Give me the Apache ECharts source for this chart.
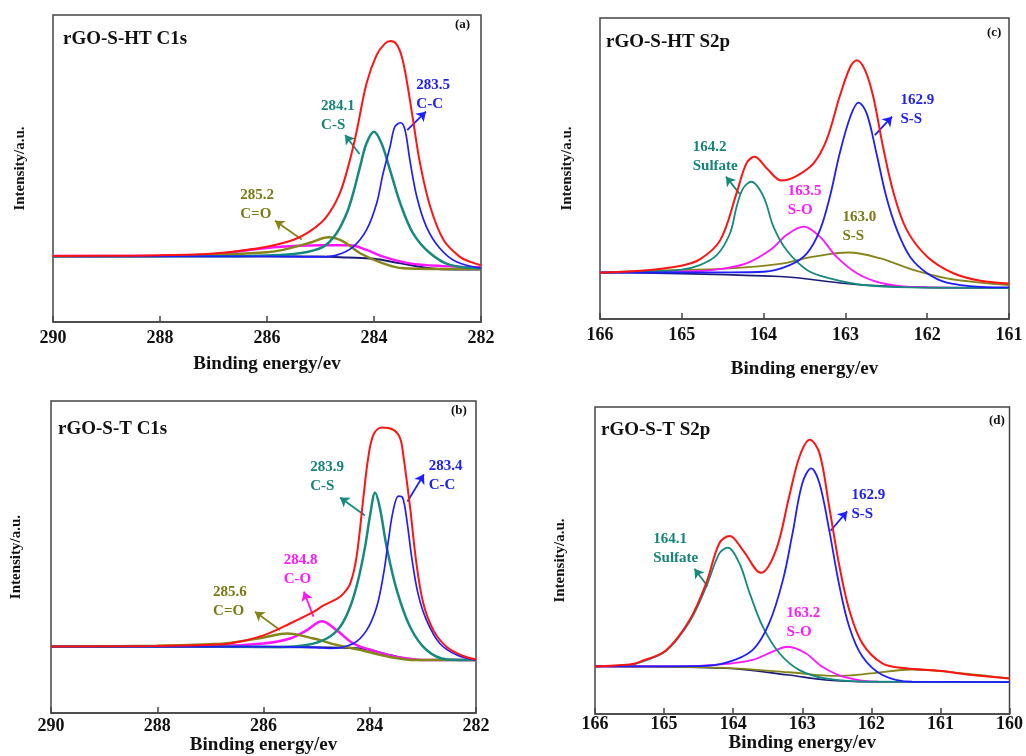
<!DOCTYPE html>
<html>
<head>
<meta charset="utf-8">
<title>XPS C1s / S2p</title>
<script src="https://cdn.jsdelivr.net/npm/echarts@6/dist/echarts.min.js"></script>
<style>
    html, body {margin: 0; padding: 0; background: #fff;}
    #main {width: 1026px; height: 756px;}
</style>
</head>
<body>
<div id="main"></div>
<script>
(function () {

    "use strict";

    /** (a) rGO-S-HT C1s  [binding energy, intensity] */
    var aEnvelope = [[290, 21.5], [288.5, 21.6], [287.5, 21.9], [287, 22.3], [286.5, 23.2], [286, 24.5], [285.5, 26.8], [285.2, 29.5], [284.9, 34.0], [284.64, 41.9], [284.45, 52.8], [284.32, 62.5], [284.14, 77.7], [283.95, 87.0], [283.8, 90.6], [283.69, 91.5], [283.58, 90.5], [283.48, 86.4], [283.39, 78.8], [283.27, 65.8], [283.14, 51.7], [282.95, 37.6], [282.7, 26.7], [282.4, 21.3], [282.2, 19.6], [282, 18.5]];
    var aCS = [[290, 21.4], [287, 21.4], [286, 21.7], [285.4, 22.4], [284.95, 24.5], [284.7, 28.9], [284.51, 35.4], [284.39, 41.9], [284.26, 50.6], [284.14, 58.2], [284.0, 62.0], [283.86, 58.2], [283.7, 49.5], [283.51, 38.7], [283.27, 28.9], [282.95, 22.4], [282.58, 18.6], [282, 17.5]];
    var aCC = [[290, 21.4], [286, 21.4], [285, 21.2], [284.7, 21.8], [284.39, 24.5], [284.14, 30.0], [283.95, 38.7], [283.83, 48.4], [283.7, 57.1], [283.61, 63.6], [283.5, 64.9], [283.42, 62.5], [283.33, 52.8], [283.2, 40.8], [283.02, 31.0], [282.77, 24.0], [282.46, 19.6], [282, 17.5]];
    var aCdO = [[290, 21.4], [288, 21.5], [287, 21.8], [286, 22.7], [285.7, 23.5], [285.2, 25.8], [284.85, 27.6], [284.57, 26.2], [284.26, 22.4], [283.83, 19.1], [283.45, 17.5], [282.9, 17.3], [282, 17.3]];
    var aCO = [[290, 21.5], [288, 21.6], [287, 22.1], [286, 24.1], [285.4, 24.8], [284.95, 25.0], [284.45, 25.0], [284.14, 23.5], [283.83, 21.3], [283.33, 19.1], [282.7, 18.2], [282, 17.8]];
    var aBase = [[290, 21.5], [285, 21.3], [284.5, 21.0], [284, 20.6], [283.5, 19.1], [283, 17.6], [282.5, 17.1], [282, 17.1]];

    /** (b) rGO-S-T C1s */
    var bEnvelope = [[290, 21.3], [288, 21.5], [287, 21.9], [286.6, 22.4], [286, 24.9], [285.5, 28.7], [285.06, 32.4], [284.87, 34.5], [284.62, 36.6], [284.5, 38.2], [284.37, 41.4], [284.25, 49.9], [284.12, 69.0], [284.03, 81.7], [283.93, 89.2], [283.78, 91.5], [283.56, 90.8], [283.43, 88.1], [283.37, 82.8], [283.24, 65.8], [283.12, 47.8], [282.99, 35.0], [282.8, 26.5], [282.55, 21.2], [282.24, 18.3], [282, 17.2]];
    var bCS = [[290, 21.3], [287, 21.3], [285.69, 21.2], [285.19, 21.8], [284.81, 23.9], [284.56, 27.6], [284.37, 34.0], [284.22, 42.5], [284.09, 53.1], [283.99, 63.7], [283.9, 70.6], [283.81, 65.8], [283.68, 53.1], [283.49, 39.3], [283.24, 27.6], [282.93, 20.2], [282.55, 17.2], [282, 17.0]];
    var bCC = [[290, 21.3], [286, 21.3], [285, 21.0], [284.75, 20.7], [284.31, 22.3], [284.06, 26.5], [283.87, 34.0], [283.74, 44.6], [283.65, 55.2], [283.56, 64.8], [283.46, 69.5], [283.38, 69.0], [283.3, 61.6], [283.21, 49.9], [283.09, 38.2], [282.93, 29.7], [282.68, 22.3], [282.36, 18.6], [282, 17.0]];
    var bCO = [[290, 21.3], [287, 21.4], [286, 22.3], [285.5, 23.9], [285.19, 26.5], [284.9, 29.4], [284.62, 26.5], [284.31, 22.3], [283.93, 20.0], [283.49, 18.0], [282.9, 17.0], [282, 17.0]];
    var bCdO = [[290, 21.3], [288, 21.6], [287, 22.1], [286.63, 22.5], [286, 24.2], [285.56, 25.5], [285.06, 23.9], [284.62, 21.8], [284.12, 20.0], [283.62, 18.0], [283.12, 17.0], [282, 17.0]];
    var bBase = [[290, 21.3], [285, 21.1], [284.5, 20.9], [284.12, 20.6], [283.62, 18.6], [283.12, 17.0], [282, 17.0]];

    /** (c) rGO-S-HT S2p */
    var cEnvelope = [[166, 15.4], [165.5, 16.0], [165.02, 17.6], [164.78, 19.8], [164.53, 26.2], [164.33, 41.8], [164.21, 51.7], [164.11, 53.9], [163.96, 50.0], [163.78, 46.0], [163.6, 47.5], [163.39, 51.7], [163.23, 59.5], [163.07, 73.9], [162.94, 83.8], [162.86, 86.0], [162.76, 82.7], [162.66, 73.9], [162.54, 57.2], [162.41, 41.8], [162.25, 29.6], [162.0, 20.7], [161.68, 15.2], [161.35, 12.7], [161, 11.8]];
    var cSulfate = [[166, 15.4], [165.5, 15.7], [165.02, 16.3], [164.78, 17.9], [164.57, 21.3], [164.41, 28.5], [164.33, 37.3], [164.25, 43.4], [164.15, 45.6], [164.0, 40.6], [163.88, 30.7], [163.72, 22.9], [163.47, 16.3], [163.19, 13.5], [162.78, 11.3], [162.2, 10.5], [161, 10.3]];
    var cSO = [[166, 15.5], [165, 15.8], [164.61, 16.3], [164.21, 18.5], [163.92, 22.9], [163.72, 27.9], [163.51, 30.7], [163.31, 27.3], [163.11, 20.7], [162.86, 15.2], [162.58, 12.1], [162.2, 10.7], [161, 10.3]];
    var cSS = [[166, 15.4], [164.5, 15.5], [164.0, 15.7], [163.68, 17.9], [163.47, 21.8], [163.31, 29.6], [163.19, 40.6], [163.07, 55.0], [162.94, 67.2], [162.84, 71.9], [162.74, 68.3], [162.62, 55.0], [162.5, 40.6], [162.37, 29.6], [162.21, 20.7], [162.0, 15.2], [161.76, 12.1], [161.35, 10.7], [161, 10.5]];
    var cSS2 = [[166, 15.5], [165.02, 16.3], [164.41, 16.8], [163.8, 18.3], [163.39, 20.7], [162.96, 22.1], [162.58, 20.2], [162.17, 16.3], [161.76, 13.5], [161.35, 12.1], [161, 11.3]];
    var cBase = [[166, 15.5], [163.8, 14.1], [163.0, 11.8], [162.58, 11.0], [162.0, 10.5], [161, 10.4]];

    /** (d) rGO-S-T S2p */
    var dEnvelope = [[166, 15.5], [165.5, 16.1], [165.35, 17.0], [164.97, 20.8], [164.63, 30.6], [164.39, 42.6], [164.2, 55.6], [164.05, 58.0], [163.86, 53.4], [163.6, 46.0], [163.38, 53.4], [163.19, 70.8], [163.04, 83.8], [162.89, 89.3], [162.75, 84.9], [162.61, 67.5], [162.47, 49.1], [162.32, 33.9], [162.13, 23.0], [161.84, 16.5], [161.5, 14.9], [161.02, 14.1], [160.54, 12.7], [160, 11.6]];
    var dSulfate = [[166, 15.5], [165.5, 16.0], [165.35, 16.8], [164.97, 20.6], [164.63, 30.1], [164.39, 41.5], [164.2, 52.3], [164.08, 54.2], [163.91, 49.1], [163.76, 39.3], [163.57, 28.4], [163.33, 19.8], [163.04, 14.3], [162.66, 11.6], [162.0, 10.5], [160, 10.4]];
    var dSS = [[166, 15.5], [164.5, 15.6], [164.1, 16.7], [163.72, 20.8], [163.48, 29.5], [163.28, 43.6], [163.14, 58.9], [163.0, 75.1], [162.87, 80.0], [162.75, 75.1], [162.61, 59.9], [162.47, 42.6], [162.32, 28.4], [162.13, 18.7], [161.84, 12.7], [161.41, 10.5], [160, 10.4]];
    var dSO = [[166, 15.5], [164.5, 15.7], [164.1, 16.3], [163.72, 17.6], [163.43, 20.3], [163.21, 21.9], [162.95, 19.8], [162.71, 15.4], [162.37, 11.9], [161.9, 10.5], [160, 10.4]];
    var dOther = [[166, 15.5], [165, 15.4], [164.1, 15.0], [163.2, 13.6], [162.5, 12.4], [162.0, 13.2], [161.41, 14.5], [160.78, 13.5], [160, 11.6]];
    var dBase = [[166, 15.5], [164.1, 14.9], [163.2, 12.7], [162.66, 11.1], [162.0, 10.5], [160, 10.4]];

    /** 面板标题 / 标签 */
    var panelTitles = ['rGO-S-HT C1s', 'rGO-S-T C1s', 'rGO-S-HT S2p', 'rGO-S-T S2p'];
    var panelTags = ['(a)', '(b)', '(c)', '(d)'];

    var RED = '#ff1414', TEAL = '#168a7c', BLUE = '#1e1eff', MAG = '#ff14ff', OLIVE = '#858519', NAVY = '#1c1c78';
    var SERIF = '"Liberation Serif", "Times New Roman", serif';

    /** 峰位标注: [x, y, 文本, 颜色] */
    var notes = [
        [[283.2, 73.8, '283.5\nC-C', '#2020f0'], [284.98, 67.0, '284.1\nC-S', '#168478'], [286.49, 38.0, '285.2\nC=O', '#7a7a14']],
        [[282.88, 75.9, '283.4\nC-C', '#2020f0'], [285.11, 75.6, '283.9\nC-S', '#168478'], [285.61, 45.9, '284.8\nC-O', '#ff1aff'], [286.94, 35.7, '285.6\nC=O', '#7a7a14']],
        [[162.32, 69.4, '162.9\nS-S', '#2020f0'], [164.86, 53.9, '164.2\nSulfate', '#168478'], [163.70, 39.0, '163.5\nS-O', '#ff1aff'], [163.03, 30.4, '163.0\nS-S', '#7a7a14']],
        [[162.28, 68.2, '162.9\nS-S', '#2020f0'], [165.15, 53.8, '164.1\nSulfate', '#168478'], [163.22, 29.5, '163.2\nS-O', '#ff1aff']]
    ];
    /** 箭头: [[起点], [终点], 颜色] */
    var arrows = [
        [[[283.38, 62.5], [283.03, 68.5], BLUE], [[284.27, 54.7], [284.54, 60.9], TEAL], [[285.35, 26.9], [285.85, 33.0], OLIVE]],
        [[[283.29, 67.8], [282.98, 76.5], BLUE], [[284.09, 63.3], [284.56, 69.1], TEAL], [[285.06, 30.9], [285.24, 38.9], MAG], [[285.69, 26.6], [286.16, 32.5], OLIVE]],
        [[[162.64, 61.1], [162.43, 67.2], BLUE], [[164.29, 41.5], [164.46, 47.3], TEAL]],
        [[[162.59, 59.7], [162.35, 66.0], BLUE], [[164.37, 41.6], [164.56, 47.3], TEAL]]
    ];

    var grids = [
        {left: 53, top: 15, width: 428, height: 307},
        {left: 51, top: 401, width: 425, height: 314},
        {left: 600, top: 18, width: 409, height: 301},
        {left: 595, top: 407, width: 416, height: 307}
    ];
    var ranges = [[282, 290, 2], [282, 290, 2], [161, 166, 1], [160, 166, 1]];
    var labelMargins = [7, 4, 7, 1];
    var nameGaps = [33, 22, 41, 18];
    var yNameGaps = [25, 27, 25, 27];
    var titlePos = [[63, 30], [58, 420], [606, 33], [601, 421]];
    var tagPos = [[455, 18], [451, 404], [987, 26], [989, 414]];

    var curves = [
        [[aBase, NAVY, 2], [aCO, MAG, 2.5], [aCdO, OLIVE, 2.5], [aCS, TEAL, 2.5], [aCC, BLUE, 1.7], [aEnvelope, RED, 2]],
        [[bBase, NAVY, 2], [bCO, MAG, 2.5], [bCdO, OLIVE, 2.5], [bCS, TEAL, 2.5], [bCC, BLUE, 1.7], [bEnvelope, RED, 2]],
        [[cBase, NAVY, 1.6], [cSS2, OLIVE, 1.8], [cSO, MAG, 1.8], [cSulfate, TEAL, 1.8], [cSS, BLUE, 1.8], [cEnvelope, RED, 2]],
        [[dBase, NAVY, 1.6], [dOther, OLIVE, 1.8], [dSO, MAG, 1.8], [dSulfate, TEAL, 1.8], [dSS, BLUE, 1.8], [dEnvelope, RED, 2]]
    ];

    var grid = [], xAxis = [], yAxis = [], series = [], title = [];

    for (var i = 0; i < 4; i++) {
        grid.push({
            left: grids[i].left, top: grids[i].top, width: grids[i].width, height: grids[i].height,
            show: true, borderColor: '#444', borderWidth: 1.5, backgroundColor: 'transparent'
        });
        xAxis.push({
            gridIndex: i,
            type: 'value',
            inverse: true,
            min: ranges[i][0],
            max: ranges[i][1],
            interval: ranges[i][2],
            name: 'Binding energy/ev',
            nameLocation: 'middle',
            nameGap: nameGaps[i],
            nameTextStyle: {fontFamily: SERIF, fontWeight: 'bold', fontSize: 19, color: '#111'},
            axisLine: {show: true, lineStyle: {color: '#444', width: 1.5}},
            axisTick: {show: true, inside: true, length: 6, lineStyle: {color: '#444', width: 1.5}},
            axisLabel: {
                show: true, margin: labelMargins[i], showMinLabel: true, showMaxLabel: true,
                fontFamily: SERIF, fontWeight: 'bold', fontSize: 18, color: '#111'
            },
            splitLine: {show: false}
        });
        yAxis.push({
            gridIndex: i,
            type: 'value',
            min: 0,
            max: 100,
            name: 'Intensity/a.u.',
            nameLocation: 'middle',
            nameGap: yNameGaps[i],
            nameTextStyle: {fontFamily: SERIF, fontWeight: 'bold', fontSize: 15, color: '#111'},
            axisLine: {show: false},
            axisTick: {show: false},
            axisLabel: {show: false},
            splitLine: {show: false}
        });
        title.push({
            text: panelTitles[i], left: titlePos[i][0], top: titlePos[i][1], padding: 0,
            textStyle: {fontFamily: SERIF, fontWeight: 'bold', fontSize: 19, color: '#111'}
        });
        title.push({
            text: panelTags[i], left: tagPos[i][0], top: tagPos[i][1], padding: 0,
            textStyle: {fontFamily: SERIF, fontWeight: 'bold', fontSize: 13, color: '#111'}
        });

        // 拟合曲线
        curves[i].forEach(function (c) {
            series.push({
                type: 'line',
                xAxisIndex: i,
                yAxisIndex: i,
                data: c[0],
                symbol: 'none',
                smooth: 0.35,
                lineStyle: {color: c[1], width: c[2]},
                silent: true
            });
        });

        // 箭头
        series.push({
            type: 'lines',
            coordinateSystem: 'cartesian2d',
            xAxisIndex: i,
            yAxisIndex: i,
            symbol: ['none', 'arrow'],
            symbolSize: 9,
            silent: true,
            data: arrows[i].map(function (a) {
                return {coords: [a[0], a[1]], lineStyle: {color: a[2], width: 1.8, opacity: 1}};
            })
        });

        // 峰位文字
        series.push({
            type: 'scatter',
            xAxisIndex: i,
            yAxisIndex: i,
            symbolSize: 1,
            itemStyle: {color: 'rgba(0,0,0,0)', opacity: 1},
            silent: true,
            z: 5,
            data: notes[i].map(function (n) {
                return {
                    value: [n[0], n[1]],
                    label: {
                        show: true, position: [0, 0], align: 'left', verticalAlign: 'middle',
                        formatter: n[2], color: n[3],
                        fontFamily: SERIF, fontWeight: 'bold', fontSize: 15, lineHeight: 19
                    }
                };
            })
        });
    }

    var myChart = echarts.init(document.getElementById('main'));
    myChart.setOption({
        animation: false,
        backgroundColor: '#fff',
        title: title,
        grid: grid,
        xAxis: xAxis,
        yAxis: yAxis,
        series: series
    });

})();
</script>
</body>
</html>
